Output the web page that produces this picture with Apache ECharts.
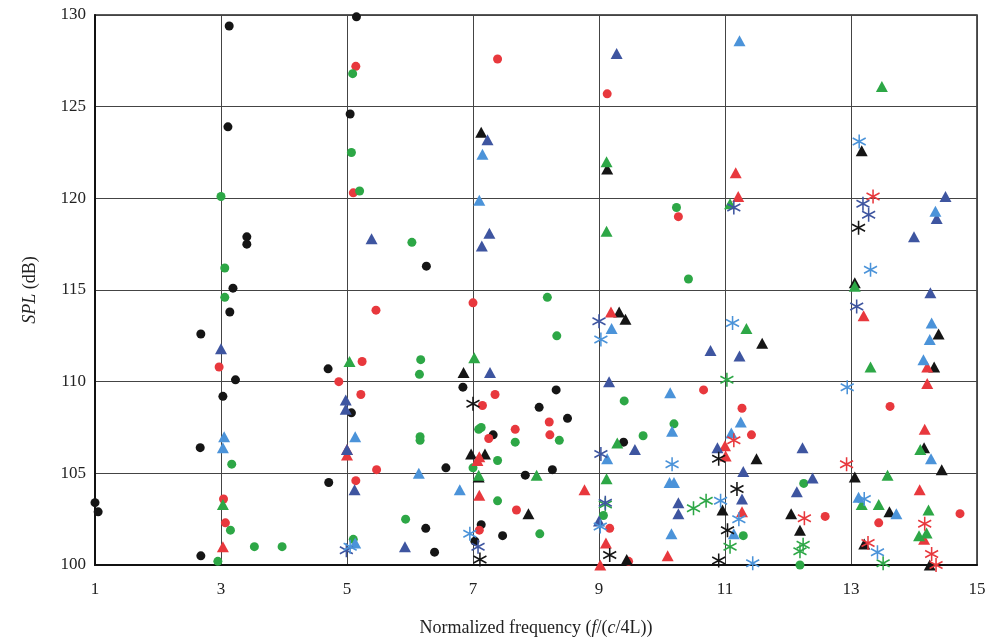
<!DOCTYPE html>
<html><head><meta charset="utf-8">
<script src="https://cdn.jsdelivr.net/npm/echarts@6/dist/echarts.min.js"></script>
<style>html,body{margin:0;padding:0;background:#fff}#c{width:992px;height:642px}</style>
</head><body><div id="c"></div>
<script>
var xTicks = [1,3,5,7,9,11,13,15];
var yTicks = [100,105,110,115,120,125,130];

var blackCircles = [[1.0,103.4],[1.05,102.9],[3.13,129.4],[3.11,123.9],[3.41,117.9],[3.41,117.5],[3.19,115.1],[3.14,113.8],[2.68,112.6],[3.23,110.1],[3.03,109.2],[2.67,106.4],[2.68,100.5],
[5.15,129.9],[5.05,124.6],[6.26,116.3],[4.7,110.7],[6.84,109.7],[5.07,108.3],[6.57,105.3],[4.71,104.5],[6.25,102.0],[6.39,100.7],
[8.05,108.6],[7.32,107.1],[7.83,104.9],[7.13,102.2],[7.47,101.6],[7.03,101.3],[8.32,109.55],[8.5,108.0],[9.39,106.7],[8.26,105.2]];
var redCircles = [[2.97,110.8],[3.04,103.6],[3.07,102.3],
[5.14,127.2],[7.39,127.6],[5.1,120.3],[5.46,113.9],[7.0,114.3],[5.24,111.1],[4.87,110.0],[5.22,109.3],[5.47,105.2],[5.14,104.6],
[9.13,125.7],[10.26,119.0],[7.35,109.3],[7.15,108.7],[7.67,107.4],[7.25,106.9],[7.69,103.0],[7.1,101.9],[8.21,107.8],[8.22,107.1],[10.66,109.55],[9.17,102.0],[9.47,100.2],[11.27,108.55],[11.42,107.1],[13.62,108.65],[14.73,102.8],[12.59,102.65],[13.44,102.3]];
var greenCircles = [[3.0,120.1],[3.06,116.2],[3.06,114.6],[3.17,105.5],[3.15,101.9],[3.53,101.0],[3.97,101.0],[2.95,100.2],
[5.09,126.8],[5.07,122.5],[5.2,120.4],[6.03,117.6],[6.17,111.2],[6.15,110.4],[6.16,107.0],[6.16,106.8],[5.93,102.5],[5.1,101.4],
[7.09,107.4],[7.13,107.5],[7.67,106.7],[7.39,105.7],[7.0,105.3],[7.39,103.5],[8.06,101.7],
[10.23,119.5],[10.42,115.6],[8.18,114.6],[8.33,112.5],[9.4,108.95],[8.37,106.8],[10.19,107.7],[9.7,107.05],[9.07,102.7],[11.29,101.6],[12.25,104.45],[12.19,100.0]];
var blackTriangles = [[7.13,123.6],[6.85,110.5],[6.97,106.05],[7.19,106.05],[7.09,104.8],[7.88,102.8],
[9.13,121.6],[9.32,113.8],[9.42,113.4],[9.44,100.3],[10.96,103.0],[11.59,112.1],[11.5,105.8],
[13.17,122.6],[13.06,115.4],[14.39,112.6],[14.32,110.8],[14.16,106.4],[14.44,105.2],[13.06,104.8],[13.61,102.9],[12.05,102.8],[12.19,101.9],[13.21,101.15],[14.25,100.0]];
var redTriangles = [[3.03,101.0],[5.0,106.3],[5.0,106.0],[7.1,105.9],[7.07,105.7],[7.1,103.8],
[11.17,121.4],[11.21,120.1],[9.19,113.8],[8.77,104.1],[9.11,101.2],[9.02,100.0],[10.09,100.5],[11.0,106.5],[11.01,105.95],[11.27,102.9],
[13.2,113.6],[14.21,110.8],[14.21,109.9],[14.17,107.4],[14.09,104.1],[14.16,101.4]];
var greenTriangles = [[3.03,103.3],[5.04,111.1],[7.02,111.3],[7.09,104.9],[8.01,104.9],
[9.12,122.0],[9.12,118.2],[11.08,119.7],[11.34,112.9],[9.29,106.65],[9.12,104.7],
[13.49,126.1],[13.06,115.2],[13.31,110.8],[14.1,106.3],[13.58,104.9],[13.17,103.3],[13.44,103.3],[14.23,103.0],[14.2,101.75],[14.08,101.6]];
var darkBlueTriangles = [[3.0,111.8],[7.23,123.2],[5.39,117.8],[7.26,118.1],[7.14,117.4],[7.27,110.5],[4.98,109.0],[4.98,108.5],[5.0,106.3],[5.12,104.1],[5.92,101.0],
[9.28,127.9],[9.16,110.0],[10.77,111.7],[11.23,111.4],[9.57,106.3],[10.26,103.4],[10.26,102.8],[9.0,102.4],[10.88,106.4],[11.27,103.6],[11.29,105.1],
[14.5,120.1],[14.36,118.9],[14.0,117.9],[14.26,114.85],[12.23,106.4],[12.39,104.75],[12.14,104.0]];
var lightBlueTriangles = [[3.05,107.0],[3.03,106.4],[7.15,122.4],[7.1,119.9],[5.13,107.0],[6.14,105.0],[6.79,104.1],[5.13,101.2],
[11.23,128.6],[9.2,112.9],[10.13,109.4],[10.16,107.3],[9.13,105.8],[10.12,104.5],[10.19,104.5],[10.15,101.7],[11.25,107.8],[11.1,107.2],[11.14,101.7],
[14.34,119.3],[14.28,113.2],[14.25,112.3],[14.15,111.2],[14.27,105.8],[13.12,103.7],[13.72,102.8]];
var blackAsterisks = [[7.0,108.8],[7.11,100.3],[9.17,100.55],[10.9,100.25],[11.19,104.15],[11.04,101.9],[10.9,105.8],[13.12,118.4]];
var redAsterisks = [[13.35,120.1],[11.14,106.8],[12.93,105.5],[12.26,102.55],[14.17,102.25],[13.27,101.2],[14.28,100.6],[14.35,100.0]];
var greenAsterisks = [[11.03,110.1],[9.1,103.3],[10.5,103.1],[10.7,103.5],[11.08,101.0],[12.24,101.1],[12.19,100.75],[13.51,100.1]];
var darkBlueAsterisks = [[4.99,100.8],[7.08,101.0],[11.14,119.5],[9.0,113.3],[9.03,106.05],[9.1,103.4],[13.19,119.7],[13.28,119.1],[13.09,114.1]];
var lightBlueAsterisks = [[5.05,101.0],[6.95,101.7],[9.03,112.3],[11.12,113.2],[10.16,105.5],[10.93,103.5],[9.02,102.1],[11.22,102.5],[11.44,100.1],[13.13,123.1],[13.31,116.1],[12.94,109.7],[13.21,103.6],[13.42,100.7]];

var C = {black:'#151515', red:'#e8383d', green:'#2da746', dblue:'#3e55a0', lblue:'#4b93d9'};
var ASTER = 'path://M0,-10L0,10M-8.66,-5L8.66,5M-8.66,5L8.66,-5';

function circ(d,c){return {type:'scatter',data:d,symbol:'circle',symbolSize:9,itemStyle:{color:c,opacity:1},z:3};}
function tri(d,c){return {type:'scatter',data:d,symbol:'triangle',symbolSize:[12,11],itemStyle:{color:c,opacity:1},z:3};}
function ast(d,c){return {type:'scatter',data:d,symbol:ASTER,symbolSize:[13,14],itemStyle:{color:'none',borderColor:c,borderWidth:1.6,opacity:1},z:4};}

var serif = 'Liberation Serif';
var chart = echarts.init(document.getElementById('c'));
chart.setOption({
  animation:false,
  backgroundColor:'#fff',
  grid:{left:95,right:15,top:15,bottom:76,show:true,borderColor:'#222',borderWidth:1.5},
  xAxis:{type:'value',min:xTicks[0],max:xTicks[xTicks.length-1],interval:2,
    axisLine:{show:true,onZero:false,lineStyle:{color:'#111',width:2}},
    axisTick:{show:false},
    splitLine:{show:true,lineStyle:{color:'#444',width:1}},
    axisLabel:{fontFamily:serif,fontSize:17,color:'#222',margin:16},
    name:'Normalized frequency ({i|f}/({i|c}/4L))',nameLocation:'middle',nameGap:54,
    nameTextStyle:{fontFamily:serif,fontSize:18,color:'#222',rich:{i:{fontFamily:serif,fontStyle:'italic',fontSize:18,color:'#222'}}}},
  yAxis:{type:'value',min:yTicks[0],max:yTicks[yTicks.length-1],interval:5,
    axisLine:{show:true,onZero:false,lineStyle:{color:'#111',width:2}},
    axisTick:{show:false},
    splitLine:{show:true,lineStyle:{color:'#444',width:1}},
    axisLabel:{fontFamily:serif,fontSize:17,color:'#222',margin:9},
    name:'{i|SPL} (dB)',nameLocation:'middle',nameGap:56,
    nameTextStyle:{fontFamily:serif,fontSize:18,color:'#222',rich:{i:{fontFamily:serif,fontStyle:'italic',fontSize:18,color:'#222'}}}},
  series:[
    circ(blackCircles,C.black),circ(redCircles,C.red),circ(greenCircles,C.green),
    tri(blackTriangles,C.black),tri(redTriangles,C.red),tri(greenTriangles,C.green),
    tri(darkBlueTriangles,C.dblue),tri(lightBlueTriangles,C.lblue),
    ast(blackAsterisks,C.black),ast(redAsterisks,C.red),ast(greenAsterisks,C.green),
    ast(darkBlueAsterisks,C.dblue),ast(lightBlueAsterisks,C.lblue)
  ]
});
</script></body></html>
